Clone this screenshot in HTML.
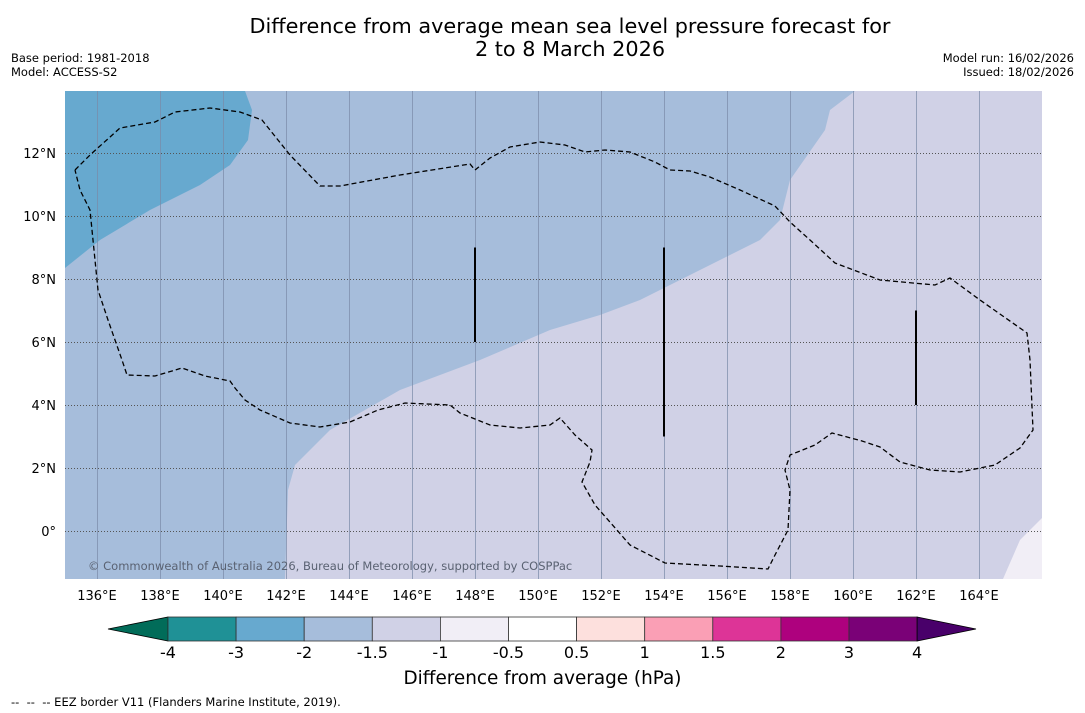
<!DOCTYPE html>
<html><head><meta charset="utf-8"><style>
body{margin:0;background:#fff;font-family:"DejaVu Sans","Liberation Sans",sans-serif;}
#wrap{position:relative;width:1085px;height:713px;overflow:hidden;background:#fff}
.t{position:absolute;white-space:nowrap}
svg text{font-family:"DejaVu Sans","Liberation Sans",sans-serif}
</style></head><body>
<div id="wrap">
<div class="t" style="left:0;width:1140px;top:15px;text-align:center;font-size:20.8px;line-height:23px">Difference from average mean sea level pressure forecast for<br>2 to 8 March 2026</div>
<div class="t" style="left:11px;top:51px;font-size:11.5px;line-height:14px">Base period: 1981-2018<br>Model: ACCESS-S2</div>
<div class="t" style="right:11px;top:51px;font-size:11.5px;line-height:14px;text-align:right">Model run: 16/02/2026<br>Issued: 18/02/2026</div>
<svg id="svg" width="1085" height="713" style="position:absolute;left:0;top:0"></svg>
<div class="t" style="left:0;width:1085px;top:668px;text-align:center;font-size:18.4px">Difference from average (hPa)</div>
<div class="t" style="left:11px;top:695px;font-size:11.5px">--&nbsp; --&nbsp; -- EEZ border V11 (Flanders Marine Institute, 2019).</div>
</div>
<script>
const lonTicks=[136,138,140,142,144,146,148,150,152,154,156,158,160,162,164];
const latTicks=[12,10,8,6,4,2,0];
const cbLevels=["-4","-3","-2","-1.5","-1","-0.5","0.5","1","1.5","2","3","4"];
const cbColors=["#1f9196","#67a9cf","#a6bddb","#d0d1e6","#f1eef6","#ffffff","#fde0dd","#fa9fb5","#dd3497","#ae017e","#7a0177"];
const x=lon=>97+(lon-136)*31.5, y=lat=>531-lat*31.5;
const NS="http://www.w3.org/2000/svg", svg=document.getElementById('svg');
function mk(t,a,p){const e=document.createElementNS(NS,t);for(const k in a)e.setAttribute(k,a[k]);(p||svg).appendChild(e);return e;}
const X0=65,X1=1042,Y0=91,Y1=579;
let r=mk('rect',{x:X0,y:Y0,width:X1-X0,height:Y1-Y0,fill:'#a6bddb'});


let p=mk('polygon',{points:"65,91 245,91 252,110 248,140 230,165 200,185 150,210 100,240 65,268",fill:'#67a9cf'});


p=mk('polygon',{points:"855,91 1042,91 1042,579 285,579 288,490 295,465 330,430 400,390 480,360 550,330 600,315 640,300 700,270 760,240 780,220 790,180 825,130 830,110",fill:'#d0d1e6'});


p=mk('polygon',{points:"1042,518 1020,540 1003,579 1042,579",fill:'#f1eef6'});


lonTicks.forEach(l=>{let g=mk('line',{x1:x(l)+0.5,x2:x(l)+0.5,y1:Y0,y2:Y1,stroke:'#7a8aa8','stroke-width':1,opacity:0.7});


let t=mk('text',{x:x(l),y:600,'text-anchor':'middle','font-size':13});t.textContent=l+'°E';

});
latTicks.forEach(l=>{let g=mk('line',{x1:X0,x2:X1,y1:y(l)+0.5,y2:y(l)+0.5,stroke:'#555','stroke-width':1,'stroke-dasharray':'1,2'});


let t=mk('text',{x:56,y:y(l)+5,'text-anchor':'end','font-size':13});t.textContent=l===0?'0°':l+'°N';

});
p=mk('polyline',{points:"75,170 90,155 120,128 155,122 175,112 210,108 240,112 262,120 290,155 320,186 340,186 400,175 470,164 475,170 490,158 510,147 540,142 565,145 585,152 605,150 630,152 655,162 670,170 690,171 710,177 740,190 775,206 790,222 810,240 835,263 880,280 935,285 950,278 980,300 1027,333 1030,360 1033,430 1020,448 995,465 960,472 930,470 900,462 880,447 862,441 832,433 815,445 790,455 785,470 790,490 788,530 775,555 768,569 720,566 665,563 630,545 595,505 582,482 590,462 592,450 575,435 560,418 550,425 520,428 490,425 460,413 450,405 405,403 378,410 350,422 320,427 290,423 260,410 245,400 235,388 230,381 205,376 182,368 155,376 127,375 122,360 108,320 98,290 95,260 90,210 80,190 75,170",fill:'none',stroke:'#000','stroke-width':1.3,'stroke-dasharray':'5,3'});


[[148,9,6],[154,9,3],[162,7,4]].forEach(s=>{let l=mk('line',{x1:x(s[0]),x2:x(s[0]),y1:y(s[1]),y2:y(s[2]),stroke:'#000','stroke-width':2});

});
let c=mk('text',{x:88,y:570,'font-size':11.5,fill:'#5a6272'});c.textContent='© Commonwealth of Australia 2026, Bureau of Meteorology, supported by COSPPac';


const cx0=168,cw=68.1,cy=617,ch=24;
let a=mk('polygon',{points:`108,629 ${cx0},${cy} ${cx0},${cy+ch}`,fill:'#016c59',stroke:'#000','stroke-width':0.8});


cbColors.forEach((col,i)=>{let b=mk('rect',{x:cx0+i*cw,y:cy,width:cw,height:ch,fill:col,stroke:'#333','stroke-width':0.8});

});
const cx1=cx0+cbColors.length*cw;
a=mk('polygon',{points:`${cx1},${cy} 976,629 ${cx1},${cy+ch}`,fill:'#49006a',stroke:'#000','stroke-width':0.8});


cbLevels.forEach((v,i)=>{let t=mk('text',{x:cx0+i*cw,y:658,'text-anchor':'middle','font-size':16});t.textContent=v;

});
</script>
</body></html>
